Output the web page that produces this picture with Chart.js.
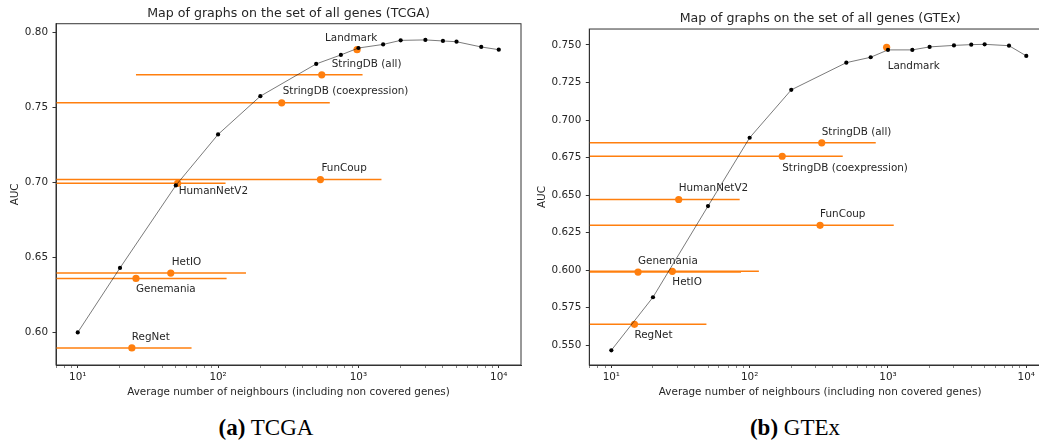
<!DOCTYPE html>
<html>
<head>
<meta charset="utf-8">
<script src="https://cdn.jsdelivr.net/npm/chart.js@4.4.0/dist/chart.umd.min.js"></script>
<style>
  html, body { margin: 0; padding: 0; background: #fff; overflow: hidden; }
  body { width: 1039px; height: 442px; position: relative; }
  canvas { position: absolute; top: 0; }
  #chartA { left: 0; }
  #chartB { left: 525px; }
  .caption {
    position: absolute; top: 415px; line-height: 26px;
    font-family: "Liberation Serif", "Times New Roman", serif; font-size: 23px;
    color: #000; transform: translateX(-50%); white-space: nowrap;
  }
</style>
</head>
<body>
<canvas id="chartA" width="525" height="405"></canvas>
<canvas id="chartB" width="530" height="405"></canvas>
<div class="caption" style="left:266px"><b>(a)</b> TCGA</div>
<div class="caption" style="left:795px"><b>(b)</b> GTEx</div>
<script>
// neighbourhood sizes of the "map" curve
const kValues = [10, 20, 50, 100, 200, 500, 750, 1000, 1500, 2000, 3000, 4000, 5000, 7500, 10000];

// TCGA
const curveTCGA = [0.600, 0.643, 0.698, 0.732, 0.7575, 0.779, 0.785, 0.7896, 0.792, 0.7947, 0.795, 0.7943, 0.7938, 0.7903, 0.7885];
const namesTCGA = ['Landmark', 'StringDB (all)', 'StringDB (coexpression)', 'FunCoup', 'HumanNetV2', 'HetIO', 'Genemania', 'RegNet'];
const meanTCGA = [978, 548, 284, 536, 51.5, 46, 26, 24.3];
const stdTCGA = [0, 522, 341, 923, 61.5, 112, 89, 40.4];
const aucTCGA = [0.7885, 0.7717, 0.7531, 0.7019, 0.6994, 0.6396, 0.636, 0.5897];
const yTicksTCGA = [0.60, 0.65, 0.70, 0.75, 0.80];

// GTEx
const curveGTEx = [0.5467, 0.582, 0.6427, 0.6882, 0.7201, 0.7382, 0.7418, 0.7467, 0.7467, 0.7487, 0.7497, 0.7502, 0.7504, 0.7495, 0.7427];
const namesGTEx = ['Landmark', 'StringDB (all)', 'StringDB (coexpression)', 'HumanNetV2', 'FunCoup', 'Genemania', 'HetIO', 'RegNet'];
const meanGTEx = [978, 332, 172, 30.7, 323, 15.6, 27.6, 14.7];
const stdGTEx = [0, 484, 299, 54, 778, 71, 89, 34];
const aucGTEx = [0.7484, 0.6848, 0.6759, 0.6471, 0.6299, 0.5988, 0.5993, 0.564];
const yTicksGTEx = [0.550, 0.575, 0.600, 0.625, 0.650, 0.675, 0.700, 0.725, 0.750];

const xMajorTicks = [10, 100, 1000, 10000];
const xTickLabels = ['10\u00b9', '10\u00b2', '10\u00b3', '10\u2074'];

const ORANGE = '#ff7f0e';
const TEXT = '#262626';
const FONT = 'DejaVu Sans';

function xTicksBetween(min, max) {
  const out = [];
  for (let d = 1; d <= 10000; d *= 10) {
    for (let m = 1; m <= 9; m++) {
      const v = m * d;
      if (v >= min && v <= max) out.push(v);
    }
  }
  return out;
}

// point labels, left aligned, offset from the marker
const pointLabels = {
  id: 'pointLabels',
  afterDatasetsDraw(chart, args, opts) {
    const {ctx, scales: {x, y}} = chart;
    ctx.save();
    ctx.font = '10.4px "' + FONT + '"';
    ctx.fillStyle = TEXT;
    ctx.textAlign = 'left';
    ctx.textBaseline = 'middle';
    opts.names.forEach((name, i) => {
      const px = x.getPixelForValue(opts.means[i]) + opts.offsets[i][0];
      const py = y.getPixelForValue(opts.aucs[i]) + opts.offsets[i][1];
      ctx.fillText(name, px, py);
    });
    ctx.restore();
  }
};

// top and right spines
const frame = {
  id: 'frame',
  afterDraw(chart) {
    const {ctx, chartArea: a} = chart;
    ctx.save();
    ctx.strokeStyle = '#333';
    ctx.lineWidth = 1;
    ctx.strokeRect(a.left, a.top, a.right - a.left, a.bottom - a.top);
    ctx.restore();
  }
};

function makeChart(id, s) {
  const datasets = [{
    data: kValues.map((k, i) => ({x: k, y: s.curve[i]})),
    showLine: true,
    borderColor: 'rgba(0,0,0,0.75)',
    borderWidth: 0.7,
    pointRadius: 2.1,
    pointBackgroundColor: '#000',
    pointBorderWidth: 0
  }, {
    data: s.means.map((m, i) => ({x: m, y: s.aucs[i]})),
    pointRadius: 3.6,
    pointBackgroundColor: ORANGE,
    pointBorderWidth: 0
  }];
  s.means.forEach((m, i) => {
    if (!s.stds[i]) return;
    datasets.push({
      data: [{x: Math.max(m - s.stds[i], 1), y: s.aucs[i]}, {x: m + s.stds[i], y: s.aucs[i]}],
      showLine: true,
      borderColor: ORANGE,
      borderWidth: 1.5,
      pointRadius: 0
    });
  });

  return new Chart(document.getElementById(id), {
    type: 'scatter',
    data: {datasets},
    options: {
      responsive: false,
      animation: false,
      events: [],
      layout: {padding: {left: 0, right: 4, top: 0, bottom: 0}},
      plugins: {
        legend: {display: false},
        tooltip: {enabled: false},
        title: {
          display: true,
          text: s.title,
          fullSize: false,
          color: TEXT,
          font: {family: FONT, size: 12.6, weight: 'normal'},
          padding: s.titlePad
        },
        pointLabels: {names: s.names, means: s.means, aucs: s.aucs, offsets: s.offsets}
      },
      scales: {
        x: {
          type: 'logarithmic',
          min: s.xMin,
          max: s.xMax,
          afterBuildTicks: sc => { sc.ticks = xTicksBetween(s.xMin, s.xMax).map(v => ({value: v})); },
          afterFit: sc => { sc.height = 40; },
          ticks: {
            autoSkip: false, maxRotation: 0, padding: 3.5, color: TEXT,
            font: {family: FONT, size: 10.4},
            callback: v => { const j = xMajorTicks.indexOf(v); return j < 0 ? '' : xTickLabels[j]; }
          },
          grid: {
            drawOnChartArea: false, tickLength: 3, tickColor: '#333',
            tickWidth: c => (c.tick && xMajorTicks.includes(c.tick.value) ? 1 : 0.6)
          },
          border: {color: '#333', width: 1},
          title: {
            display: true, text: 'Average number of neighbours (including non covered genes)',
            color: TEXT, font: {family: FONT, size: 10.4}, padding: {top: 0, bottom: 6}
          }
        },
        y: {
          type: 'linear',
          min: s.yMin,
          max: s.yMax,
          afterBuildTicks: sc => { sc.ticks = s.yTicks.map(v => ({value: v})); },
          afterFit: sc => { sc.width = s.yWidth; },
          ticks: {
            padding: 4.5, color: TEXT,
            font: {family: FONT, size: 10.4},
            callback: v => v.toFixed(s.decimals)
          },
          grid: {drawOnChartArea: false, tickLength: 3.5, tickColor: '#333'},
          border: {color: '#333', width: 1},
          title: {
            display: true, text: 'AUC', color: TEXT,
            font: {family: FONT, size: 10.4}, padding: {top: s.yTitlePad, bottom: 0}
          }
        }
      }
    },
    plugins: [pointLabels, frame]
  });
}

makeChart('chartA', {
  title: 'Map of graphs on the set of all genes (TCGA)',
  titlePad: {top: 6.1, bottom: 2.5},
  curve: curveTCGA, names: namesTCGA, means: meanTCGA, stds: stdTCGA, aucs: aucTCGA,
  offsets: [[-32, -11], [10, -11], [1, -11], [1, -11.5], [1, 8], [1, -11], [0, 11], [0, -11]],
  xMin: 7.0, xMax: 14400, yMin: 0.5783, yMax: 0.8058,
  yTicks: yTicksTCGA, decimals: 2, yWidth: 56, yTitlePad: 8.8
});

makeChart('chartB', {
  title: 'Map of graphs on the set of all genes (GTEx)',
  titlePad: {top: 11.1, bottom: 2.8},
  curve: curveGTEx, names: namesGTEx, means: meanGTEx, stds: stdGTEx, aucs: aucGTEx,
  offsets: [[1, 19], [0, -11], [0, 12], [0, -11.3], [0, -10.7], [0, -10.7], [0, 11.3], [0, 10.7]],
  xMin: 6.93, xMax: 15090, yMin: 0.5369, yMax: 0.7606,
  yTicks: yTicksGTEx, decimals: 3, yWidth: 64.3, yTitlePad: 11.1
});
</script>
</body>
</html>
